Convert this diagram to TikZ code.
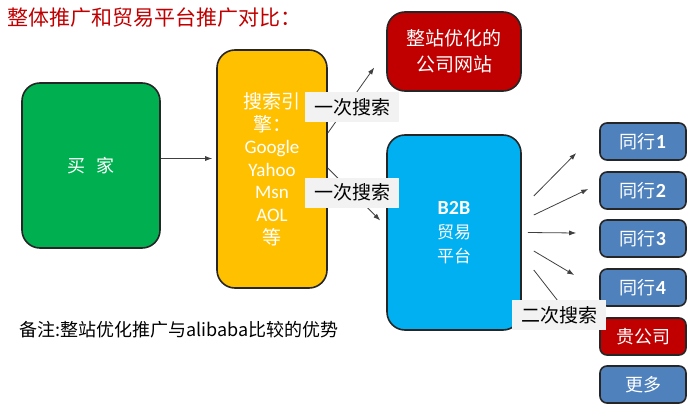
\documentclass[tikz,border=0pt]{standalone}
\usepackage{fontspec}
\setmainfont{Carlito}
\newfontfamily\cjk{Noto Sans CJK SC}
\usetikzlibrary{arrows.meta}
\definecolor{buyergreen}{HTML}{00B050}
\definecolor{engineyellow}{HTML}{FFC000}
\definecolor{sitered}{HTML}{C00000}
\definecolor{platformblue}{HTML}{00B0F0}
\definecolor{peerblue}{HTML}{4F81BD}
\definecolor{tagfill}{HTML}{F2F2F2}
\definecolor{boxline}{HTML}{262626}
\definecolor{arrgray}{HTML}{404040}

\begin{document}
\begin{tikzpicture}[
  x=1pt, y=-1pt,
  font=\fontsize{18}{22}\selectfont,
  bigbox/.style={
    draw=boxline,
    line width=1.6pt,
    rounded corners=18pt,
    align=center,
    text=white,
    inner sep=0pt
  },
  peerbox/.style={
    draw=boxline,
    line width=1.6pt,
    rounded corners=7pt,
    fill=peerblue,
    text=white,
    minimum width=86pt,
    minimum height=37pt,
    inner sep=0pt
  },
  tag/.style={
    fill=tagfill,
    minimum width=94pt,
    minimum height=30pt,
    inner sep=0pt,
    font=\cjk\fontsize{19}{22}\selectfont
  },
  arr/.style={-{Latex[length=7pt,width=5pt]},draw=arrgray,line width=0.8pt}
]
\useasboundingbox (0,0) rectangle (698,417);

\node[anchor=west, text=sitered, font=\cjk\fontsize{21}{24}\selectfont] (title) at (4,18) {整体推广和贸易平台推广对比：};

\node[bigbox, fill=buyergreen, minimum width=138pt, minimum height=165pt] (buyer) at (91,165.5) {{\cjk 买\hspace{0.6em}家}};
\node[bigbox, fill=engineyellow, minimum width=110pt, minimum height=238pt, font=\fontsize{19}{22.6}\selectfont] (engine) at (272,169)
  {{\cjk 搜索引}\\{\cjk 擎：}\\Google\\Yahoo\\Msn\\AOL\\{\cjk 等}};
\node[bigbox, fill=sitered, minimum width=134pt, minimum height=79pt, font=\cjk\fontsize{19}{26}\selectfont] (site) at (454,51.5) {整站优化的\\公司网站};
\node[bigbox, fill=platformblue, minimum width=134pt, minimum height=195pt, font=\fontsize{17}{24}\selectfont] (b2b) at (454,232.5)
  {{\fontsize{20}{24}\selectfont\textbf{B2B}}\\{\cjk 贸易}\\{\cjk 平台}};

\node[peerbox] (peer1) at (643,141.5) {{\cjk 同行}\textbf{\fontsize{20}{22}\selectfont 1}};
\node[peerbox] (peer2) at (643,190.5) {{\cjk 同行}\textbf{\fontsize{20}{22}\selectfont 2}};
\node[peerbox] (peer3) at (643,238.5) {{\cjk 同行}\textbf{\fontsize{20}{22}\selectfont 3}};
\node[peerbox] (peer4) at (643,287.5) {{\cjk 同行}\textbf{\fontsize{20}{22}\selectfont 4}};
\node[peerbox, fill=sitered] (mine) at (643,336.5) {{\cjk 贵公司}};
\node[peerbox] (more) at (643,384.5) {{\cjk 更多}};

\draw[arr] ([yshift=7pt]buyer.east) -- ([yshift=7pt,xshift=-4pt]buyer.east -| engine.west);
\draw[arr] ([yshift=36pt]engine.east) -- ([xshift=-12pt,yshift=-16pt]site.west);
\draw[arr] ([yshift=1pt]engine.east) -- ([xshift=-6pt,yshift=12pt]b2b.west);

\draw[arr] ([xshift=12pt,yshift=36.5pt]b2b.east) -- ([xshift=-23pt,yshift=-11.5pt]peer1.west);
\draw[arr] ([xshift=12pt,yshift=17.5pt]b2b.east) -- ([xshift=-11pt,yshift=1.5pt]peer2.west);
\draw[arr] ([xshift=6pt]b2b.east) -- ([xshift=-23pt,yshift=5.5pt]peer3.west);
\draw[arr] ([xshift=12pt,yshift=-18.5pt]b2b.east) -- ([xshift=-25pt,yshift=12.5pt]peer4.west);
\draw[arr] ([xshift=12pt,yshift=-37.5pt]b2b.east) -- ([xshift=-28pt,yshift=18.5pt]mine.west);

\node[tag] (search1) at (352,107) {一次搜索};
\node[tag] (search2) at (352,192.5) {一次搜索};
\node[tag] (search3) at (559,315) {二次搜索};

\node[anchor=west, font=\cjk\fontsize{18}{22}\selectfont] (note) at (16,330) {备注:整站优化推广与alibaba比较的优势};
\end{tikzpicture}
\end{document}
